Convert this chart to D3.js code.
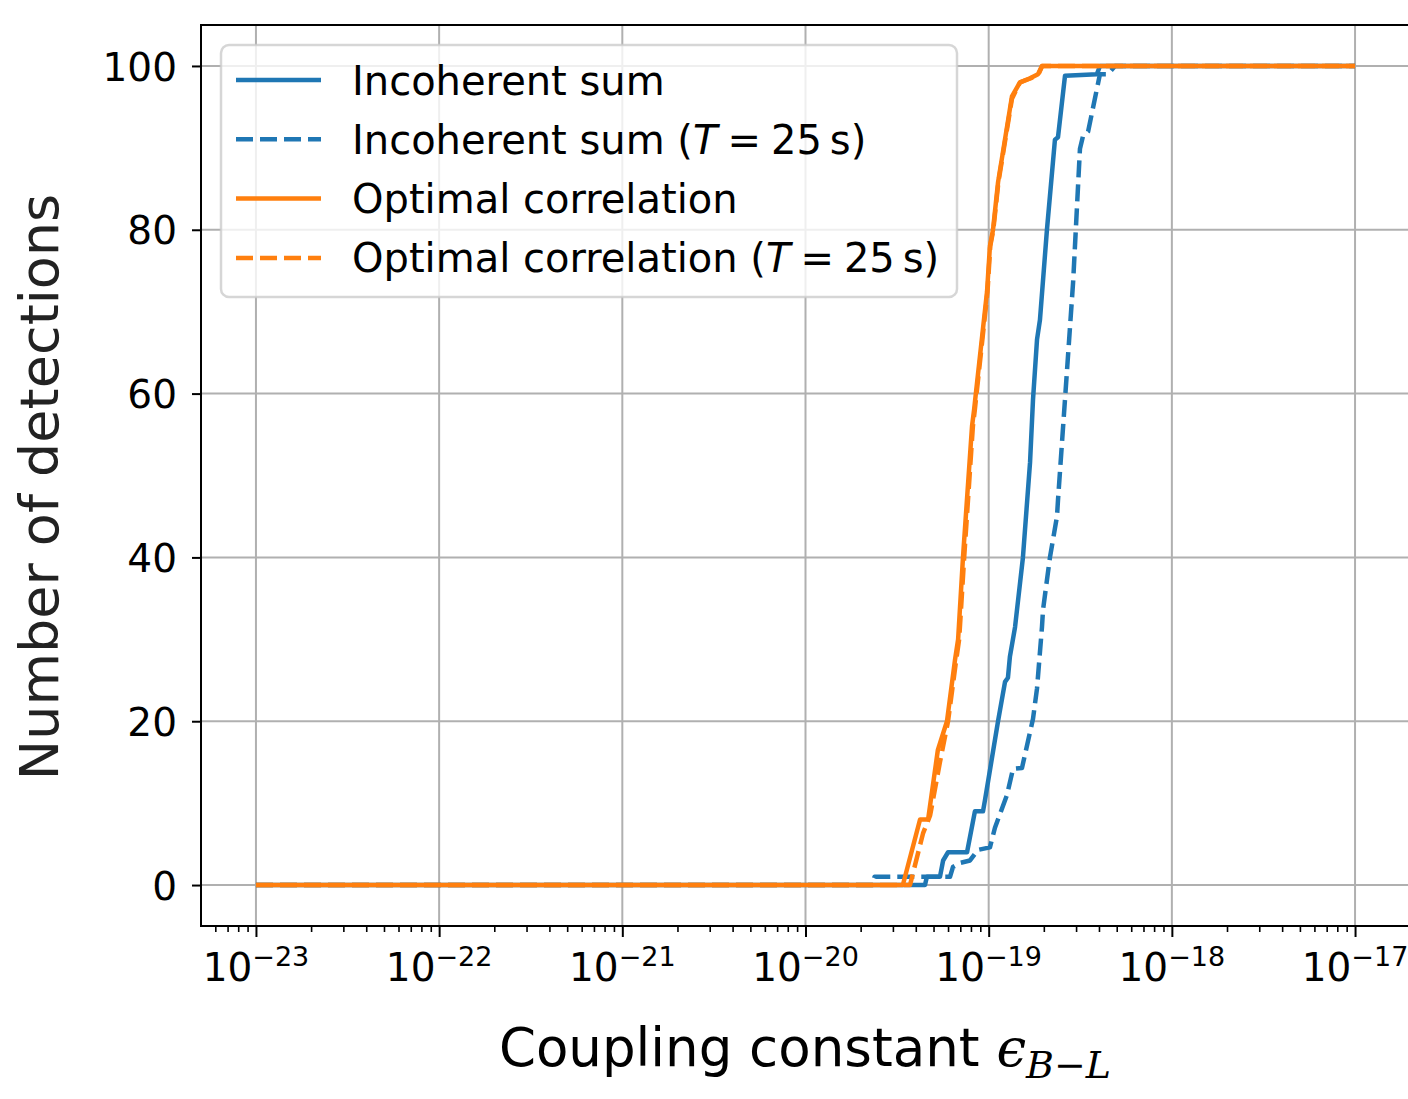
<!DOCTYPE html>
<html>
<head>
<meta charset="utf-8">
<script src="https://cdn.jsdelivr.net/npm/d3@7"></script>
<style>
  body { margin: 0; background: #fff; }
  text { font-family: "DejaVu Sans", sans-serif; }
</style>
</head>
<body>
<div id="chart"></div>
<script>
// data: coupling constant and number of detections
var incoherentEps = [1e-23, 4.49e-20, 4.6e-20, 5.42e-20, 5.64e-20, 6.0e-20, 7.62e-20, 8.41e-20, 9.31e-20, 9.55e-20,
  1.125e-19, 1.228e-19, 1.274e-19, 1.306e-19, 1.393e-19, 1.538e-19, 1.682e-19, 1.746e-19, 1.836e-19, 1.905e-19,
  2.08e-19, 2.30e-19, 2.39e-19, 2.61e-19, 3.90e-19, 4.05e-19, 1e-17];
var incoherentN = [0, 0, 1, 1, 3, 4, 4, 9, 9, 10.4,
  20, 24.8, 25.3, 27.9, 31.5, 40, 51.6, 59.3, 66.6, 69,
  80, 91, 91.3, 98.8, 99, 100, 100];

var incoherent25Eps = [1e-23, 2.33e-20, 2.38e-20, 6.15e-20, 6.38e-20, 6.97e-20, 7.91e-20, 8.75e-20, 1.016e-19, 1.082e-19,
  1.259e-19, 1.358e-19, 1.52e-19, 1.746e-19, 1.836e-19, 1.954e-19, 1.98e-19, 2.16e-19, 2.36e-19, 2.39e-19,
  2.61e-19, 2.89e-19, 3.15e-19, 3.27e-19, 3.49e-19, 4.05e-19, 4.48e-19, 4.89e-19, 1e-17];
var incoherent25N = [0, 0, 1, 1, 2.2, 2.7, 3, 4.3, 4.6, 7,
  11, 14.2, 14.3, 20.3, 24, 31.5, 33.6, 40, 45, 47,
  59.3, 73.6, 89.9, 91.4, 92, 99, 99, 100, 100];

var optimalEps = [1e-23, 3.40e-20, 4.22e-20, 4.67e-20, 5.28e-20, 5.92e-20, 6.55e-20, 6.81e-20, 7.24e-20, 8.11e-20,
  8.32e-20, 9.79e-20, 1.016e-19, 1.056e-19, 1.125e-19, 1.34e-19, 1.483e-19, 1.682e-19, 1.858e-19, 1.954e-19, 1e-17];
var optimalN = [0, 0, 8, 8, 16.5, 20, 27.5, 30, 40, 56,
  58, 72.4, 78, 80, 85.8, 96.3, 98, 98.5, 99, 100, 100];

var optimal25Eps = [1e-23, 3.72e-20, 4.38e-20, 4.79e-20, 5.42e-20, 6.0e-20, 6.65e-20, 6.9e-20, 7.35e-20, 8.2e-20,
  8.4e-20, 9.85e-20, 1.02e-19, 1.06e-19, 1.13e-19, 1.34e-19, 1.483e-19, 1.7e-19, 1.87e-19, 1.96e-19, 1e-17];
var optimal25N = [0, 0, 6.3, 8.5, 15, 20, 27.5, 30, 40, 56,
  58, 72.4, 78, 80, 85.8, 96, 98, 98.5, 99, 100, 100];

var xMajorTicks = [1e-23, 1e-22, 1e-21, 1e-20, 1e-19, 1e-18, 1e-17];
var xTickExponents = ["\u221223", "\u221222", "\u221221", "\u221220", "\u221219", "\u221218", "\u221217"];
var yTicks = [0, 20, 40, 60, 80, 100];

var seriesNames = ["Incoherent sum", "Incoherent sum (T = 25 s)", "Optimal correlation", "Optimal correlation (T = 25 s)"];
var seriesColors = ["#1f77b4", "#1f77b4", "#ff7f0e", "#ff7f0e"];
var seriesDashed = [false, true, false, true];

var series = [
  { eps: incoherentEps, n: incoherentN },
  { eps: incoherent25Eps, n: incoherent25N },
  { eps: optimalEps, n: optimalN },
  { eps: optimal25Eps, n: optimal25N }
];

var width = 1408, height = 1099;
var margin = { top: 25, left: 201 };
var innerWidth = 1209, innerHeight = 901;

var svg = d3.select("#chart").append("svg")
  .attr("width", width)
  .attr("height", height);

var g = svg.append("g")
  .attr("transform", "translate(" + margin.left + "," + margin.top + ")");

var xScale = d3.scaleLog()
  .domain([Math.pow(10, -23.3), Math.pow(10, -16.7)])
  .range([0, innerWidth]);
var yScale = d3.scaleLinear().domain([-5, 105]).range([innerHeight, 0]);

// grid
g.append("g").selectAll("line")
  .data(xMajorTicks)
  .join("line")
  .attr("x1", d => xScale(d)).attr("x2", d => xScale(d))
  .attr("y1", 0).attr("y2", innerHeight)
  .attr("stroke", "#b0b0b0").attr("stroke-width", 2);
g.append("g").selectAll("line")
  .data(yTicks)
  .join("line")
  .attr("x1", 0).attr("x2", innerWidth)
  .attr("y1", d => yScale(d)).attr("y2", d => yScale(d))
  .attr("stroke", "#b0b0b0").attr("stroke-width", 2);

// lines
var line = d3.line()
  .x(d => xScale(d[0]))
  .y(d => yScale(d[1]));

series.forEach(function (s, i) {
  var pts = s.eps.map((e, j) => [e, s.n[j]]);
  g.append("path")
    .datum(pts)
    .attr("d", line)
    .attr("fill", "none")
    .attr("stroke", seriesColors[i])
    .attr("stroke-width", 4.5)
    .attr("stroke-linejoin", "round")
    .attr("stroke-dasharray", seriesDashed[i] ? "17,7" : null);
});

// minor ticks
var minorTicks = [];
for (var k = -24; k <= -17; k++) {
  for (var m = 2; m <= 9; m++) {
    var v = m * Math.pow(10, k);
    if (v > xScale.domain()[0] && v < xScale.domain()[1]) minorTicks.push(v);
  }
}

var xAxisMinor = g.append("g")
  .attr("transform", "translate(0," + innerHeight + ")")
  .call(d3.axisBottom(xScale).tickValues(minorTicks).tickSize(6).tickFormat(""));
xAxisMinor.select(".domain").remove();
xAxisMinor.selectAll("text").remove();
xAxisMinor.selectAll("line").attr("stroke", "#000").attr("stroke-width", 1.6);

var xAxis = g.append("g")
  .attr("transform", "translate(0," + innerHeight + ")")
  .call(d3.axisBottom(xScale).tickValues(xMajorTicks).tickSize(11).tickFormat(""));
xAxis.select(".domain").remove();
xAxis.selectAll("text").remove();
xAxis.selectAll("line").attr("stroke", "#000").attr("stroke-width", 2);

var xLabels = g.append("g").selectAll("text")
  .data(xMajorTicks)
  .join("text")
  .attr("x", d => xScale(d))
  .attr("y", 956)
  .attr("text-anchor", "middle")
  .attr("font-size", 39)
  .attr("fill", "#000");
xLabels.append("tspan").text("10");
xLabels.append("tspan")
  .attr("font-size", 27)
  .attr("dy", -15)
  .text((d, i) => xTickExponents[i]);

var yAxis = g.append("g")
  .call(d3.axisLeft(yScale).tickValues(yTicks).tickSize(9).tickPadding(15));
yAxis.select(".domain").remove();
yAxis.selectAll("line").attr("stroke", "#000").attr("stroke-width", 2);
yAxis.selectAll("text")
  .attr("font-size", 39)
  .attr("font-family", "DejaVu Sans")
  .attr("fill", "#000")
  .attr("dy", "0.36em");

// frame
g.append("rect")
  .attr("width", innerWidth).attr("height", innerHeight)
  .attr("fill", "none").attr("stroke", "#000").attr("stroke-width", 2);

// legend
var legend = svg.append("g");
legend.append("rect")
  .attr("x", 221).attr("y", 45)
  .attr("width", 736).attr("height", 252)
  .attr("rx", 8)
  .attr("fill", "rgba(255,255,255,0.8)")
  .attr("stroke", "rgba(204,204,204,0.8)")
  .attr("stroke-width", 2.5);

var rows = legend.selectAll("g.row")
  .data(seriesNames)
  .join("g")
  .attr("class", "row")
  .attr("transform", (d, i) => "translate(0," + (80 + i * 59.3) + ")");
rows.append("line")
  .attr("x1", 236).attr("x2", 321)
  .attr("stroke", (d, i) => seriesColors[i])
  .attr("stroke-width", 4.5)
  .attr("stroke-dasharray", (d, i) => seriesDashed[i] ? "17,7" : null);
rows.each(function (d, i) {
  var t = d3.select(this).append("text")
    .attr("x", 352).attr("y", 14.5)
    .attr("font-size", 40).attr("fill", "#000");
  if (seriesDashed[i]) {
    var base = d.split(" (")[0];
    t.append("tspan").text(base + " (");
    t.append("tspan").attr("font-style", "italic").text("T");
    t.append("tspan").text("\u2005=\u200525\u2009s)");
  } else {
    t.text(d);
  }
});

// axis titles
svg.append("text")
  .attr("transform", "translate(58,487) rotate(-90)")
  .attr("text-anchor", "middle")
  .attr("font-size", 54)
  .attr("fill", "#222")
  .text("Number of detections");

var xTitle = svg.append("text")
  .attr("x", 805).attr("y", 1066)
  .attr("text-anchor", "middle")
  .attr("font-size", 53)
  .attr("fill", "#000");
xTitle.append("tspan").text("Coupling constant ");
xTitle.append("tspan")
  .attr("font-family", "DejaVu Serif")
  .attr("font-style", "italic")
  .text("\u03f5");
xTitle.append("tspan")
  .attr("font-family", "DejaVu Serif")
  .attr("font-style", "italic")
  .attr("font-size", 38)
  .attr("dy", 12)
  .text("B\u2212L");
</script>
</body>
</html>
